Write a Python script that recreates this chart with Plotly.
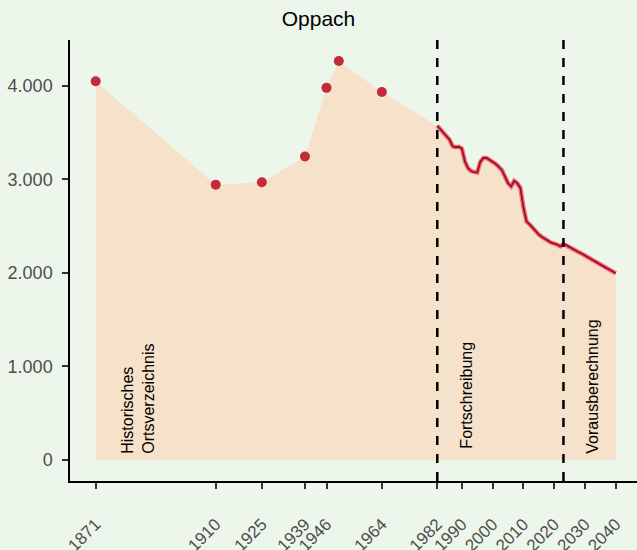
import plotly.graph_objects as go

# Historisches Ortsverzeichnis
hist_years = [1871, 1910, 1925, 1939, 1946, 1950, 1964]
hist_pop = [4050, 2945, 2970, 3245, 3980, 4267, 3935]

# Fortschreibung 1982-2022
fort_years = list(range(1982, 2023))
fort_pop = [3575, 3540, 3505, 3460, 3425, 3355, 3345, 3350, 3330, 3190,
            3120, 3090, 3078, 3075, 3190, 3230, 3230, 3210, 3190, 3165,
            3135, 3100, 3030, 2960, 2925, 2985, 2960, 2910, 2700, 2550,
            2520, 2480, 2440, 2410, 2385, 2365, 2340, 2325, 2315, 2305, 2285]

# Vorausberechnung 2023-2040
proj_years = list(range(2023, 2041))
proj_pop = [2310, 2295, 2275, 2258, 2240, 2222, 2205, 2185, 2165, 2148,
            2130, 2110, 2090, 2070, 2052, 2035, 2015, 1997]

tick_years = [1871, 1910, 1925, 1939, 1946, 1964, 1982, 1990, 2000, 2010, 2020, 2030, 2040]
breaks = [1982, 2023]

line_years = fort_years + proj_years
line_pop = fort_pop + proj_pop

bg = '#edf6eb'
dark_red = '#b5001f'

fig = go.Figure()

# shaded area
fig.add_trace(go.Scatter(x=hist_years + line_years, y=hist_pop + line_pop,
                         mode='lines', line=dict(width=0), fill='tozeroy',
                         fillcolor='#f6e2cb', hoverinfo='skip'))

# line with light halo
fig.add_trace(go.Scatter(x=line_years, y=line_pop, mode='lines',
                         line=dict(color='#e07a82', width=4.5)))
fig.add_trace(go.Scatter(x=line_years, y=line_pop, mode='lines',
                         line=dict(color=dark_red, width=1.8)))

# historic points
fig.add_trace(go.Scatter(x=hist_years, y=hist_pop, mode='markers',
                         marker=dict(color='#c52a3c', size=10)))

for b in breaks:
    fig.add_vline(x=b, line=dict(color='black', width=2.5, dash='dash'))

fig.add_annotation(x=1884.9, y=50, text='Historisches<br>Ortsverzeichnis',
                   textangle=-90, showarrow=False, xanchor='center', yanchor='bottom',
                   align='left', font=dict(size=16, color='black'))
fig.add_annotation(x=1991.5, y=100, text='Fortschreibung',
                   textangle=-90, showarrow=False, xanchor='center', yanchor='bottom',
                   font=dict(size=16, color='black'))
fig.add_annotation(x=2032.4, y=50, text='Vorausberechnung',
                   textangle=-90, showarrow=False, xanchor='center', yanchor='bottom',
                   font=dict(size=16, color='black'))

fig.update_layout(
    width=637, height=550,
    paper_bgcolor=bg, plot_bgcolor=bg,
    margin=dict(l=70, r=0, t=40, b=69, autoexpand=False),
    showlegend=False,
    separators=',.',
    font=dict(family='Liberation Sans, Arial, sans-serif'),
    title=dict(text='Oppach', x=0.5, xanchor='center', y=0.967, yanchor='middle',
               automargin=False, font=dict(size=21, color='black')),
)
fig.update_xaxes(range=[1862.65, 2046.9], tickvals=tick_years, tickangle=-45,
                 automargin=False,
                 showgrid=False, zeroline=False, showline=True, linecolor='black', linewidth=1.5,
                 ticks='outside', ticklen=6, tickwidth=1.5, tickcolor='#333333',
                 ticklabelstandoff=19,
                 tickfont=dict(size=17, color='#4d4d4d'))
fig.update_yaxes(range=[-225, 4492], tickvals=[0, 1000, 2000, 3000, 4000], tickformat=',d',
                 automargin=False,
                 showgrid=False, zeroline=False, showline=True, linecolor='black', linewidth=1.5,
                 ticks='outside', ticklen=6, tickwidth=1.5, tickcolor='#333333',
                 ticklabelstandoff=6,
                 tickfont=dict(size=18, color='#4d4d4d'))

# drop the default page margin so the figure sits at the window corner
fig.write_html('out.html', config={'displayModeBar': False},
               post_script="document.body.style.margin='0';")
